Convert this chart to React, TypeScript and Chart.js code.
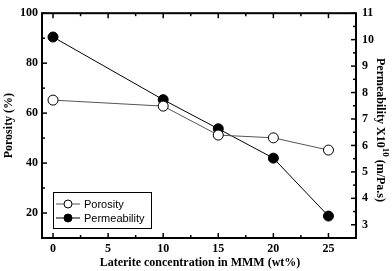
import React, { useEffect, useRef } from 'react';
import { Chart, registerables } from 'chart.js';
Chart.register(...registerables);

const concentrations = [0, 10, 15, 20, 25];
const porosity = [65.2, 62.8, 51.2, 50.1, 45.2];
const permeability = [10.1, 7.73, 6.63, 5.52, 3.33];
const leftTicks = [20, 40, 60, 80, 100];
const leftMinor = [10, 30, 50, 70, 90];
const rightTicks = [3, 4, 5, 6, 7, 8, 9, 10, 11];
const rightMinor = [2.5, 3.5, 4.5, 5.5, 6.5, 7.5, 8.5, 9.5, 10.5];
const xTicks = [0, 5, 10, 15, 20, 25];
const xMinor = [2.5, 7.5, 12.5, 17.5, 22.5, 27.5];

const SERIF = '"Liberation Serif", "Times New Roman", serif';
const SANS = '"Liberation Sans", Arial, sans-serif';

const decor = {
  id: 'decor',
  afterDraw(chart: any) {
    const { ctx, chartArea: a, scales } = chart;
    const x = scales.x, y = scales.y, y1 = scales.y1;
    ctx.save();
    ctx.strokeStyle = '#000';
    ctx.lineWidth = 1.5;
    const tick = (x0: number, y0: number, x1: number, y1p: number) => {
      ctx.beginPath(); ctx.moveTo(x0, y0); ctx.lineTo(x1, y1p); ctx.stroke();
    };
    xTicks.forEach(v => { const p = x.getPixelForValue(v); tick(p, a.bottom, p, a.bottom - 5); tick(p, a.top, p, a.top + 5); });
    xMinor.forEach(v => { const p = x.getPixelForValue(v); if (p > a.right) return; tick(p, a.bottom, p, a.bottom - 3); tick(p, a.top, p, a.top + 3); });
    leftTicks.forEach(v => { const p = y.getPixelForValue(v); tick(a.left, p, a.left + 5, p); });
    leftMinor.forEach(v => { const p = y.getPixelForValue(v); tick(a.left, p, a.left + 3, p); });
    rightTicks.forEach(v => { const p = y1.getPixelForValue(v); tick(a.right, p, a.right - 5, p); });
    rightMinor.forEach(v => { const p = y1.getPixelForValue(v); tick(a.right, p, a.right - 3, p); });
    ctx.lineWidth = 2;
    ctx.strokeRect(a.left, a.top, a.right - a.left, a.bottom - a.top);

    ctx.fillStyle = '#000';
    ctx.font = `bold 12px ${SERIF}`;
    ctx.textAlign = 'center';
    ctx.textBaseline = 'middle';
    ctx.fillText('Laterite concentration in MMM (wt%)', 200, 263);
    ctx.save();
    ctx.translate(9, (a.top + a.bottom) / 2);
    ctx.rotate(-Math.PI / 2);
    ctx.fillText('Porosity (%)', 0, 0);
    ctx.restore();

    ctx.save();
    ctx.translate(380, 130);
    ctx.rotate(Math.PI / 2);
    const p1 = 'Permeability X10';
    const sup = '10';
    const p2 = ' (m/Pa.s)';
    ctx.font = `bold 12px ${SERIF}`;
    const w1 = ctx.measureText(p1).width;
    const w2 = ctx.measureText(p2).width;
    ctx.font = `bold 9px ${SERIF}`;
    const ws = ctx.measureText(sup).width;
    const total = w1 + ws + w2;
    let cx = -total / 2;
    ctx.textAlign = 'left';
    ctx.font = `bold 12px ${SERIF}`;
    ctx.fillText(p1, cx, 0);
    cx += w1;
    ctx.font = `bold 9px ${SERIF}`;
    ctx.fillText(sup, cx, -5);
    cx += ws;
    ctx.font = `bold 12px ${SERIF}`;
    ctx.fillText(p2, cx, 0);
    ctx.restore();

    const lx = 53, ly = 192, lw = 98, lh = 36;
    ctx.lineWidth = 1;
    ctx.strokeStyle = '#000';
    ctx.strokeRect(lx + 0.5, ly + 0.5, lw, lh);
    const rows = [
      { label: 'Porosity', fill: '#fff', line: '#555', yy: ly + 12 },
      { label: 'Permeability', fill: '#000', line: '#000', yy: ly + 26 },
    ];
    rows.forEach(r => {
      ctx.strokeStyle = r.line;
      ctx.lineWidth = 1;
      ctx.beginPath(); ctx.moveTo(lx + 3, r.yy); ctx.lineTo(lx + 27, r.yy); ctx.stroke();
      ctx.beginPath(); ctx.arc(lx + 15, r.yy, 4, 0, Math.PI * 2);
      ctx.fillStyle = r.fill; ctx.fill();
      ctx.strokeStyle = '#000'; ctx.stroke();
      ctx.fillStyle = '#000';
      ctx.font = `11px ${SANS}`;
      ctx.textAlign = 'left';
      ctx.textBaseline = 'middle';
      ctx.fillText(r.label, lx + 31, r.yy + 0.5);
    });
    ctx.restore();
  },
};

export default function App() {
  const ref = useRef<HTMLCanvasElement>(null);
  useEffect(() => {
    if (!ref.current) return;
    const tickFont = { family: SERIF, size: 12, weight: 'bold' as const };
    const chart = new Chart(ref.current, {
      type: 'line',
      data: {
        datasets: [
          {
            label: 'Porosity',
            data: concentrations.map((c, i) => ({ x: c, y: porosity[i] })),
            yAxisID: 'y',
            borderColor: '#555',
            borderWidth: 1,
            pointRadius: 5,
            pointBackgroundColor: '#fff',
            pointBorderColor: '#000',
            pointBorderWidth: 1,
            tension: 0,
          },
          {
            label: 'Permeability',
            data: concentrations.map((c, i) => ({ x: c, y: permeability[i] })),
            yAxisID: 'y1',
            borderColor: '#000',
            borderWidth: 1,
            pointRadius: 5,
            pointBackgroundColor: '#000',
            pointBorderColor: '#000',
            pointBorderWidth: 1,
            tension: 0,
          },
        ],
      },
      options: {
        responsive: false,
        animation: false,
        layout: { padding: { top: 5, left: 0, right: 0, bottom: 0 } },
        plugins: { legend: { display: false }, tooltip: { enabled: false } },
        scales: {
          x: {
            type: 'linear',
            min: -1,
            max: 27.5,
            grid: { display: false, drawTicks: false },
            border: { display: false },
            ticks: { font: tickFont, color: '#000', padding: 4 },
            afterBuildTicks: (s: any) => { s.ticks = xTicks.map(v => ({ value: v })); },
            afterFit: (s: any) => { s.height = 33; },
          },
          y: {
            type: 'linear',
            position: 'left',
            min: 10,
            max: 100,
            grid: { display: false, drawTicks: false },
            border: { display: false },
            ticks: { font: tickFont, color: '#000', padding: 4 },
            afterBuildTicks: (s: any) => { s.ticks = leftTicks.map(v => ({ value: v })); },
            afterFit: (s: any) => { s.width = 42; },
          },
          y1: {
            type: 'linear',
            position: 'right',
            min: 2.5,
            max: 11,
            grid: { display: false, drawTicks: false },
            border: { display: false },
            ticks: { font: tickFont, color: '#000', padding: 6 },
            afterBuildTicks: (s: any) => { s.ticks = rightTicks.map(v => ({ value: v })); },
            afterFit: (s: any) => { s.width = 36; },
          },
        },
      },
      plugins: [decor],
    });
    return () => chart.destroy();
  }, []);
  return (
    <div style={{ position: 'absolute', left: 0, top: 0, width: 392, height: 271, background: '#fff' }}>
      <canvas ref={ref} width={392} height={271} style={{ display: 'block' }} />
    </div>
  );
}
